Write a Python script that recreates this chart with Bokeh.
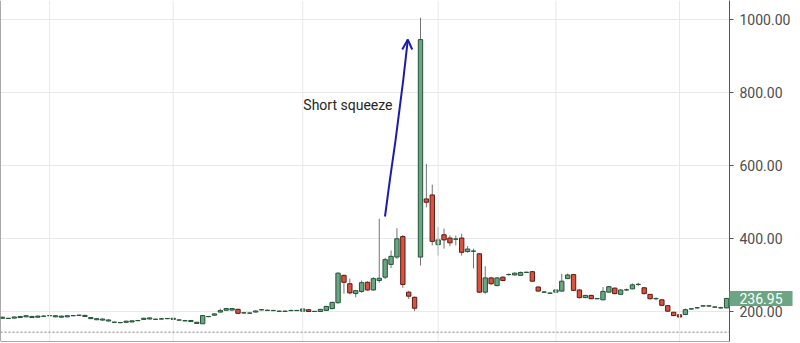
from bokeh.plotting import figure
from bokeh.models import Range1d, FixedTicker, NumeralTickFormatter, Span, Label, ColumnDataSource
from bokeh.embed import file_html
from bokeh.resources import INLINE

# ---- data (daily candles) ----
opens = [182.5, 182, 183, 184.5, 186.5, 184.5, 185.5, 188, 189.5, 186.5,
         185.5, 186.5, 189.5, 190.5, 187.5, 181.5, 178.5, 177.5, 175, 171.5,
         170.5, 171.5, 172.5, 176, 179.5, 180.5, 179.5, 180.5, 181.5, 179.5,
         177.5, 175.5, 173.5, 168.5, 167.5, 187, 191, 199.5, 204.5, 205,
         207, 197, 196.5, 199.5, 205.5, 204, 203.5, 201.5, 201.5, 203.5,
         203.5, 202, 206, 201, 201, 204, 209, 225, 300, 277,
         250, 256, 281, 260, 286, 295, 330, 350, 406, 254,
         240, 350, 509, 520, 384, 411, 402, 399, 402, 365,
         366, 359, 254, 293, 272, 295, 302, 301, 300, 308,
         310, 268, 254, 251, 254, 257, 291, 302, 260, 239,
         245, 236, 233, 254, 265, 248, 260, 263, 275, 266,
         248, 236, 233, 217, 199, 192, 193, 208, 211, 216,
         216, 213, 211, 211]
highs = [187, 184, 188, 189, 191, 189, 190, 190, 191.5, 191,
         190, 191, 191.5, 192.5, 192, 186, 183, 182, 179.5, 173.5,
         172.5, 176, 177, 178, 184, 185, 181.5, 183, 183.5, 184,
         179.5, 178, 178, 173, 191, 189, 196, 209, 211, 210.5,
         209, 199, 198.5, 204, 208, 206.5, 205.5, 203.5, 203.5, 206,
         205.5, 209.5, 207, 203, 208, 216.5, 228, 308, 302, 291,
         260, 286, 284, 295, 455, 348, 368, 429, 410, 258,
         242, 1005, 605, 548, 432, 428, 409, 409, 414, 380,
         373, 361, 325, 296, 295, 297, 305, 308, 310, 310,
         312, 270, 256, 253, 262, 304, 305, 304, 262, 247,
         247, 238, 268, 271, 267, 262, 264, 278, 280, 268,
         249, 240, 235, 218, 200, 193, 209, 210, 213.5, 218,
         218, 215, 214, 238]
lows = [181, 180.5, 182, 183.5, 185.5, 183.5, 184.5, 186.5, 188, 185.5,
        184.5, 185.5, 188, 189, 186.5, 180.5, 177.5, 176.5, 174, 170,
        169, 170.5, 171.5, 174.5, 178.5, 179.5, 178, 179, 180, 178.5,
        176, 174, 172.5, 167.5, 167, 185.5, 190, 198.5, 203.5, 204,
        195, 195.5, 195, 198.5, 204, 202.5, 202, 200.5, 200.5, 202,
        202.5, 201, 200, 199.5, 200, 203, 207, 223, 250, 248,
        240, 252, 258, 258, 280, 290, 320, 345, 266, 235,
        202, 327, 486, 382, 354, 373, 380, 382, 354, 362,
        319, 252, 250, 274, 270, 284, 299, 300, 299, 306.5,
        282, 255, 252.5, 249.5, 253, 255, 290, 257, 237, 238,
        235, 234.5, 232, 253, 248, 247, 257, 262, 271, 248,
        234, 232, 216, 200, 188, 184, 191, 206.5, 208.5, 214.5,
        214.5, 211.5, 208.5, 210]
closes = [185.5, 182.5, 186, 187.5, 189.5, 187.5, 188.5, 188.5, 190, 189.5,
          188.5, 189.5, 190, 191, 190.5, 184.5, 181.5, 180.5, 178, 172,
          171, 174.5, 175.5, 176.5, 182.5, 183.5, 180, 181, 182, 182.5,
          178, 176, 176.5, 171.5, 190, 187.5, 194.5, 203.5, 209, 209,
          196, 197.5, 197, 202.5, 206, 204.5, 204, 202, 202, 204,
          204, 208, 201, 201.5, 207, 215, 226, 306, 281, 252,
          258, 280, 260, 291, 292, 343, 352, 400, 275, 243,
          210, 945, 500, 393, 397, 397, 389, 399.5, 363, 372,
          366.5, 254, 293, 277, 293, 286, 302.5, 306, 308, 308.5,
          284, 257, 254.5, 251.5, 260, 284, 301, 259, 239, 245,
          236, 236.5, 256, 269, 250, 260, 260.5, 274, 275.5, 250,
          236, 236.5, 218, 202, 190, 186, 206, 208.5, 211.5, 216.5,
          216.5, 213.5, 211.5, 236.95]

month_start_idx = [8, 29, 51, 74, 94, 115]          # first trading day of each month
y_ticks = [200, 400, 600, 800, 1000]
reference_level = 144.5                              # dotted horizontal line

# hand-drawn annotation arrow (index, price)
arrow_x = [64.97, 65.79, 66.76, 68.06, 68.85]
arrow_y = [461, 560, 669, 833, 945]
head_x = [67.9, 68.85, 69.6]
head_y = [918, 945, 918]
note_text = "Short squeeze"
note_x, note_y = 51.1, 767

UP_FILL, UP_LINE = "#6ba583", "#225437"
DN_FILL, DN_LINE = "#d75442", "#5b1a13"
WICK = "#737375"

idx = list(range(len(opens)))
up = [c >= o for o, c in zip(opens, closes)]
src = ColumnDataSource(dict(
    x=idx, high=highs, low=lows,
    top=[max(o, c) for o, c in zip(opens, closes)],
    bottom=[min(o, c) for o, c in zip(opens, closes)],
    fill=[UP_FILL if u else DN_FILL for u in up],
    line=[UP_LINE if u else DN_LINE for u in up],
))

p = figure(frame_width=729, frame_height=341, output_backend="svg", toolbar_location=None,
           x_range=Range1d(-0.34, 123.49), y_range=Range1d(119, 1052),
           x_axis_location=None, y_axis_location="right",
           min_border_left=0, min_border_right=0, min_border_top=0, min_border_bottom=2)
p.outline_line_color = None
p.background_fill_color = "white"
p.border_fill_color = "white"

# grid
p.ygrid.grid_line_color = "#e8e8e8"
p.xgrid.grid_line_color = None
p.xgrid.visible = False
for m in month_start_idx:
    p.add_layout(Span(location=m, dimension="height", line_color="#e8e8e8", line_width=1))

# frame lines left/bottom
p.add_layout(Span(location=p.x_range.start, dimension="height", line_color="#555555", line_width=1))
p.add_layout(Span(location=p.y_range.start, dimension="width", line_color="#555555", line_width=1))

p.add_layout(Span(location=reference_level, dimension="width", line_color="#808080",
                  line_width=1, line_dash="2 2"))

# axis
ax = p.yaxis[0]
ax.ticker = FixedTicker(ticks=y_ticks)
ax.formatter = NumeralTickFormatter(format="0.00")
ax.major_label_text_font = "Roboto"
ax.major_label_text_font_size = "14px"
ax.major_label_text_color = "#4d4d4d"
ax.axis_line_color = "#555555"
ax.major_tick_line_color = "#555555"
ax.major_tick_out = 4
ax.major_tick_in = 0
ax.minor_tick_line_color = None
ax.major_label_standoff = 6

# candles
p.segment(x0="x", y0="low", x1="x", y1="high", source=src, line_color=WICK, line_width=1)
p.vbar(x="x", width=0.74, top="top", bottom="bottom", source=src,
       fill_color="fill", line_color="line", line_width=1)

# annotation
p.line(arrow_x, arrow_y, line_color="#1c1ca8", line_width=2)
p.line(head_x, head_y, line_color="#1c1ca8", line_width=2)
p.add_layout(Label(x=note_x, y=note_y, text=note_text, text_font="Roboto",
                   text_font_size="14px", text_color="#262626", text_baseline="middle"))

# last price tag (drawn over the axis; placed in a side panel so it is not clipped by the frame)
p.add_layout(Label(x=p.x_range.end, y=closes[-1], text=f"{closes[-1]:.2f}",
                   text_font="Roboto", text_font_size="14px", text_color="white",
                   text_baseline="middle", text_align="left",
                   background_fill_color=UP_FILL, padding=(10, 2)), "right")

html = file_html(p, INLINE)
html = html.replace("<head>", "<head><style>html, body { overflow: hidden; margin: 0; }</style>", 1)
open("out.html", "w").write(html)
